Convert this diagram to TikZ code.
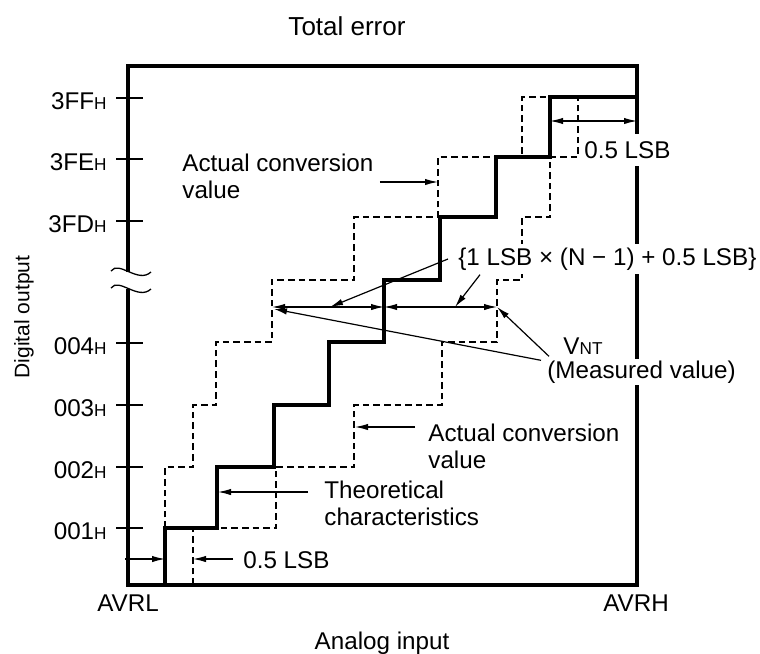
\documentclass[tikz,border=0pt]{standalone}
\usepackage{fontspec}
\setmainfont{Liberation Sans}
\usetikzlibrary{arrows.meta}
\newcommand{\lowsz}[1]{{\fontsize{8.6}{10}\selectfont #1}}
\begin{document}
\begin{tikzpicture}[x=0.5pt,y=-0.5pt,>={Latex[length=6.5pt,width=3.2pt]},
  every node/.style={font=\fontsize{12.1}{13.5}\selectfont,inner sep=1pt},
  frm/.style={line width=1.6pt},
  ideal/.style={line width=1.6pt},
  actual/.style={line width=0.65pt,dash pattern=on 3.3pt off 2pt},
  ptr/.style={line width=0.6pt},
  blank/.style={fill=white,inner ysep=2pt}]
\useasboundingbox (0,0) rectangle (760,653);
% actual conversion steps
\draw[actual] (165,528) |- (193,467) |- (216,405) |- (272,342) |- (354,280) |- (438,217) |- (522,157) |- (550,97);
\draw[actual] (193,585) |- (276,528) |- (354,467) |- (442,405) |- (497,342) |- (522,280) |- (550,217) |- (578,157) -- (578,97);
% theoretical steps
\draw[ideal] (165,585) |- (217,528) |- (274,467) |- (329,405) |- (384,342) |- (440,280) |- (496,217) |- (550,157) |- (637,97);
% frame with break
\draw[frm] (128,272) -- (128,66) -- (637,66) -- (637,585) -- (128,585) -- (128,289);
\foreach \yb in {0,17}
  \draw[line width=0.65pt] (111,271+\yb) .. controls (119,260+\yb) and (138,284+\yb) .. (151,272+\yb);
% output codes
\foreach \yy/\code in {98/3FF,159/3FE,221/3FD,343/004,405/003,467/002,528/001}{
  \draw[line width=0.65pt] (116,\yy) -- (143,\yy);
  \node[anchor=east] (c\code) at (109,\yy+3) {\code\lowsz{H}};
}
\node (title) at (347,26) {\fontsize{13}{15}\selectfont Total error};
\node[rotate=90] (yname) at (24,317) {\fontsize{10.5}{12}\selectfont Digital output};
\node (avrl) at (128,603) {AVRL};
\node (avrh) at (636,603) {AVRH};
\node (xname) at (382,643) {Analog input};
% labels
\node[anchor=north west,align=left] (acvup) at (180,152) {Actual conversion\\value};
\node[anchor=north west,align=left] (acvlow) at (426,422) {Actual conversion\\value};
\node[anchor=north west,align=left] (theo) at (322,479) {Theoretical\\characteristics};
\node[anchor=west] (lsbl) at (241,560) {0.5 LSB};
\node[blank,anchor=west,inner ysep=3.5pt] (lsbr) at (582,150) {0.5 LSB};
\node[blank,anchor=west] (nlsb) at (456,259) {\{1 LSB × (N − 1) + 0.5 LSB\}};
\node (vnt) at (583,346) {V\lowsz{NT}};
\node[blank,anchor=west,inner ysep=1pt] (meas) at (545,372) {(Measured value)};
% arrows
\coordinate (acvtip) at (438,182);
\coordinate (acv2tip) at (355,427);
\coordinate (theotip) at (218,492);
\coordinate (lsbltip) at (193,559);
\coordinate (lsbin) at (125,559);
\coordinate (lsbout) at (165,559);
\coordinate (lsbra) at (550,121);
\coordinate (lsbrb) at (637,121);
\coordinate (dl) at (272,307);
\coordinate (dm) at (384,307);
\coordinate (dr) at (497,307);
\coordinate (na) at (330,307);
\coordinate (nb) at (455,307);
\coordinate (dlm) at (274,309);
\draw[ptr,->] ([xshift=2pt]acvup.east |- acvtip) -- (acvtip);
\draw[ptr,->] ([xshift=-5.5pt]acvlow.west |- acv2tip) -- (acv2tip);
\draw[ptr,->] ([xshift=-7pt]theo.west |- theotip) -- (theotip);
\draw[ptr,->] ([xshift=-4pt]lsbl.west |- lsbltip) -- (lsbltip);
\draw[ptr,->] (lsbin) -- (lsbout);
\draw[ptr,<->] (lsbra) -- (lsbrb);
\draw[ptr,<->] (dl) -- (dm);
\draw[ptr,<->] (dm) -- (dr);
\draw[ptr,->] ([xshift=-4pt]nlsb.west) -- (na);
\draw[ptr,->] ([xshift=12pt]nlsb.south west) -- (nb);
\draw[ptr,->] ([xshift=2pt,yshift=1pt]meas.north west) -- (dr);
\draw[ptr,->] ([xshift=-2pt,yshift=-1pt]meas.north west) -- (dlm);
\end{tikzpicture}
\end{document}
